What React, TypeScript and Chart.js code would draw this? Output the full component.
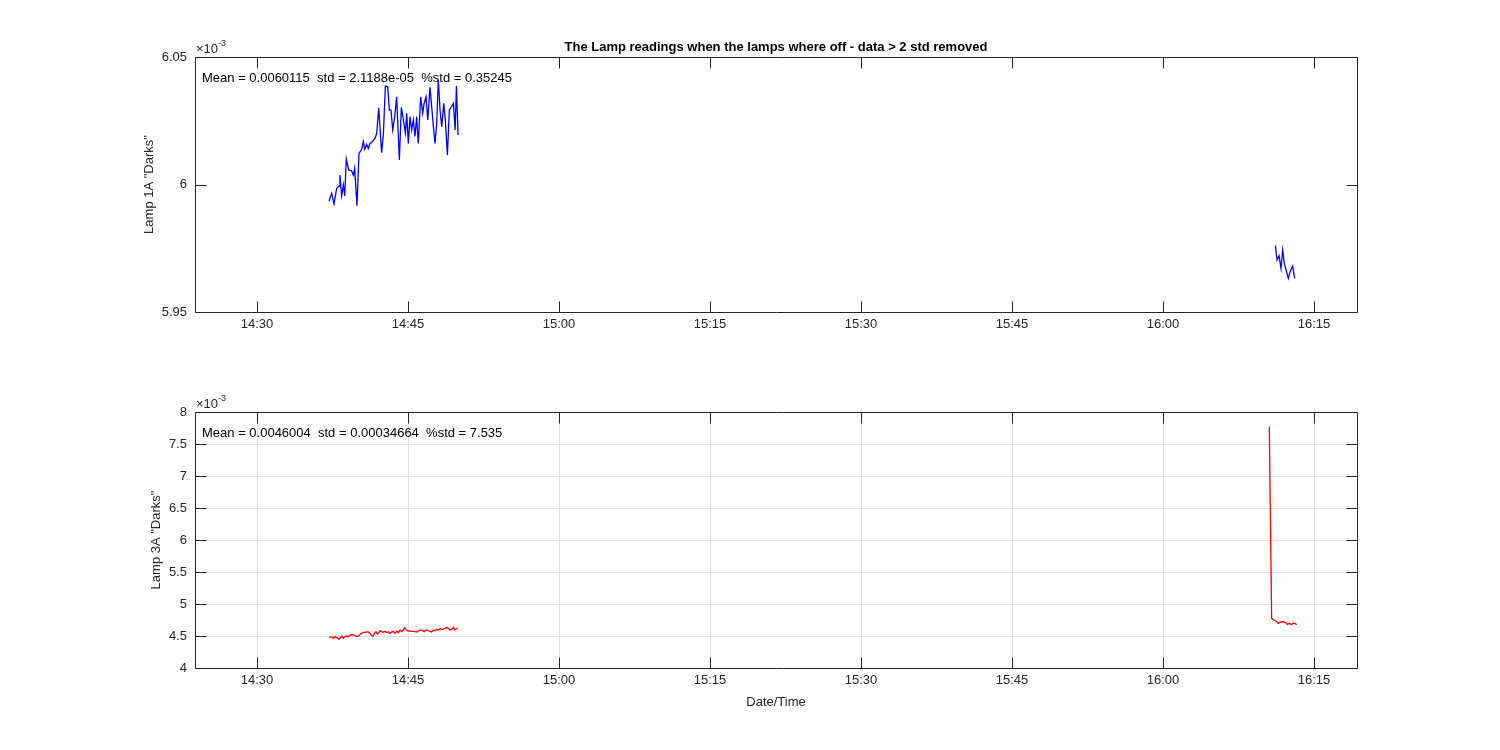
import { useEffect, useRef } from 'react';
import { Chart, registerables } from 'chart.js';

Chart.register(...registerables);

// ---- data (time in minutes after 14:00, values in units of 1e-3) ----
const xTickMinutes = [30, 45, 60, 75, 90, 105, 120, 135];
const xMin = 23.84;
const xMax = 139.27;

const lamp1ATimesA = [37.15,37.42,37.65,37.91,38.15,38.24,38.41,38.58,38.71,38.87,39.11,39.40,39.57,39.70,39.93,40.13,40.40,40.56,40.70,40.89,41.06,41.22,41.46,41.72,41.89,42.09,42.38,42.55,42.75,42.98,43.15,43.31,43.48,43.68,43.87,44.14,44.34,44.54,44.74,44.87,45.03,45.20,45.36,45.53,45.69,45.86,46.02,46.26,46.46,46.60,46.79,46.96,47.19,47.38,47.52,47.68,47.85,48.01,48.18,48.35,48.55,48.71,48.91,49.11,49.31,49.51,49.68,49.81,49.97];
const lamp1AValuesA = [5.9935,5.9965,5.9924,5.9985,5.9994,6.0037,5.9956,5.9998,5.9955,6.0100,6.0057,6.0053,6.0037,6.0063,5.9917,6.0122,6.0138,6.0169,6.0138,6.0158,6.0142,6.0161,6.0168,6.0181,6.0201,6.0301,6.0125,6.0194,6.0386,6.0384,6.0292,6.0292,6.0214,6.0266,6.0344,6.0096,6.0303,6.0253,6.0201,6.0279,6.0161,6.0266,6.0214,6.0253,6.0188,6.0266,6.0161,6.0344,6.0279,6.0318,6.0344,6.0253,6.0381,6.0292,6.0227,6.0161,6.0240,6.0410,6.0292,6.0227,6.0318,6.0253,6.0116,6.0292,6.0305,6.0318,6.0214,6.0386,6.0194];
const lamp1ATimesB = [131.16,131.33,131.53,131.72,131.89,132.05,132.22,132.45,132.65,132.88,133.08];
const lamp1AValuesB = [5.9760,5.9704,5.9721,5.9671,5.9743,5.9691,5.9665,5.9632,5.9661,5.9680,5.9632];

const lamp3ATimesA = [37.15,37.42,37.58,37.75,37.91,38.15,38.41,38.58,38.74,38.91,39.07,39.30,39.57,39.73,39.90,40.07,40.23,40.40,40.56,40.73,40.89,41.06,41.22,41.39,41.56,41.66,41.82,41.95,42.12,42.22,42.38,42.55,42.71,42.88,43.05,43.21,43.38,43.54,43.71,43.87,44.04,44.20,44.37,44.54,44.67,44.80,44.93,45.13,45.36,45.59,45.86,46.06,46.26,46.46,46.62,46.79,47.02,47.18,47.35,47.52,47.68,47.85,48.01,48.18,48.34,48.51,48.67,48.84,49.01,49.17,49.34,49.50,49.67,49.83,49.93];
const lamp3AValuesA = [4.479,4.490,4.464,4.490,4.479,4.448,4.500,4.464,4.490,4.500,4.490,4.516,4.521,4.505,4.490,4.500,4.521,4.542,4.557,4.557,4.563,4.563,4.542,4.505,4.500,4.542,4.568,4.531,4.552,4.583,4.568,4.557,4.573,4.557,4.563,4.542,4.563,4.573,4.542,4.578,4.552,4.594,4.568,4.594,4.630,4.604,4.583,4.578,4.573,4.573,4.563,4.583,4.594,4.583,4.568,4.594,4.583,4.573,4.563,4.594,4.583,4.604,4.594,4.615,4.604,4.609,4.620,4.635,4.620,4.594,4.604,4.635,4.594,4.620,4.620];
const lamp3ATimesB = [130.56,130.79,131.02,131.22,131.45,131.69,131.95,132.15,132.35,132.55,132.75,132.95,133.15,133.28];
const lamp3AValuesB = [7.771,4.776,4.750,4.734,4.698,4.719,4.724,4.714,4.682,4.698,4.677,4.703,4.693,4.677];

const lamp1AYTicks = [5.95, 6, 6.05];
const lamp3AYTicks = [4, 4.5, 5, 5.5, 6, 6.5, 7, 7.5, 8];

const titleText = 'The Lamp readings when the lamps where off - data > 2 std removed';
const lamp1AStats = 'Mean = 0.0060115  std = 2.1188e-05  %std = 0.35245';
const lamp3AStats = 'Mean = 0.0046004  std = 0.00034664  %std = 7.535';

// ---- styling ----
const FONT = '"Liberation Sans", Arial, Helvetica, sans-serif';
const AXIS = '#262626';
const W = 1500;
const H = 375;

const zip = (xs: number[], ys: number[]) => xs.map((x, i) => ({ x, y: ys[i] }));
const fmtTime = (v: number) => {
  const h = 14 + Math.floor(v / 60);
  const m = Math.round(v % 60);
  return `${h}:${String(m).padStart(2, '0')}`;
};
const fmtNum = (v: number) => String(Math.round(v * 100) / 100);

const matlabPlugin = {
  id: 'matlabBox',
  afterDraw(chart: any, _args: any, opts: any) {
    const { ctx, chartArea: a, scales } = chart;
    const L = 11;
    ctx.save();
    ctx.strokeStyle = AXIS;
    ctx.lineWidth = 1;
    const l = Math.round(a.left) + 0.5;
    const r = Math.round(a.right) + 0.5;
    const t = Math.round(a.top) + 0.5;
    const b = Math.round(a.bottom) + 0.5;
    ctx.beginPath();
    ctx.moveTo(l, t); ctx.lineTo(r, t); ctx.lineTo(r, b); ctx.lineTo(l, b); ctx.closePath();
    scales.x.ticks.forEach((tk: any) => {
      const px = Math.round(scales.x.getPixelForValue(tk.value)) + 0.5;
      ctx.moveTo(px, t); ctx.lineTo(px, t + L);
      ctx.moveTo(px, b); ctx.lineTo(px, b - L);
    });
    scales.y.ticks.forEach((tk: any) => {
      const py = Math.round(scales.y.getPixelForValue(tk.value)) + 0.5;
      ctx.moveTo(l, py); ctx.lineTo(l + L, py);
      ctx.moveTo(r, py); ctx.lineTo(r - L, py);
    });
    ctx.stroke();

    ctx.fillStyle = AXIS;
    ctx.textBaseline = 'middle';
    ctx.textAlign = 'left';
    ctx.font = `13px ${FONT}`;
    ctx.fillText('\u00d710', a.left + 1, a.top - 8);
    const w10 = ctx.measureText('\u00d710').width;
    ctx.font = `9px ${FONT}`;
    ctx.fillText('-3', a.left + 1 + w10, a.top - 13);

    ctx.fillStyle = '#000000';
    ctx.font = `13px ${FONT}`;
    ctx.fillText(opts.stats, 202, a.top + 21.5);

    if (opts.title) {
      ctx.font = `bold 13px ${FONT}`;
      ctx.textAlign = 'center';
      ctx.fillText(opts.title, (a.left + a.right) / 2, 47);
    }
    ctx.restore();
  },
};

function makeConfig(p: {
  segments: { x: number; y: number }[][];
  color: string;
  yMin: number;
  yMax: number;
  yTicks: number[];
  yTitle: string;
  yTitlePad: number;
  grid: boolean;
  padTop: number;
  padBottom: number;
  xHeight: number;
  xTitle?: string;
  stats: string;
  title?: string;
}): any {
  const tickFont = { family: FONT, size: 13 };
  return {
    type: 'line',
    data: {
      datasets: p.segments.map((seg) => ({
        data: seg,
        borderColor: p.color,
        backgroundColor: p.color,
        borderWidth: 1.3,
        pointRadius: 0,
        tension: 0,
        fill: false,
      })),
    },
    options: {
      animation: false,
      responsive: false,
      devicePixelRatio: 1,
      layout: { padding: { top: p.padTop, left: 135, right: 143, bottom: p.padBottom } },
      plugins: {
        legend: { display: false },
        tooltip: { enabled: false },
        title: { display: false },
        matlabBox: { stats: p.stats, title: p.title },
      },
      scales: {
        x: {
          type: 'linear',
          min: xMin,
          max: xMax,
          afterBuildTicks: (s: any) => { s.ticks = xTickMinutes.map((v) => ({ value: v })); },
          afterFit: (s: any) => { s.height = p.xHeight; },
          grid: { display: p.grid, drawTicks: false, color: '#e1e1e1', lineWidth: 1 },
          border: { display: false },
          ticks: {
            color: AXIS,
            font: tickFont,
            padding: 5,
            maxRotation: 0,
            autoSkip: false,
            callback: (v: number) => fmtTime(v),
          },
          title: p.xTitle
            ? { display: true, text: p.xTitle, color: AXIS, font: tickFont, padding: { top: 0, bottom: 6 } }
            : { display: false },
        },
        y: {
          type: 'linear',
          min: p.yMin,
          max: p.yMax,
          afterBuildTicks: (s: any) => { s.ticks = p.yTicks.map((v) => ({ value: v })); },
          afterFit: (s: any) => { s.width = 60; },
          grid: { display: p.grid, drawTicks: false, color: '#e1e1e1', lineWidth: 1 },
          border: { display: false },
          ticks: {
            color: AXIS,
            font: tickFont,
            padding: 8,
            autoSkip: false,
            callback: (v: number) => fmtNum(v),
          },
          title: { display: true, text: p.yTitle, color: AXIS, font: tickFont, padding: { top: p.yTitlePad, bottom: 0 } },
        },
      },
    },
    plugins: [matlabPlugin],
  };
}

export default function App() {
  const topRef = useRef<HTMLCanvasElement>(null);
  const botRef = useRef<HTMLCanvasElement>(null);

  useEffect(() => {
    document.body.style.margin = '0';
    const c1 = new Chart(
      topRef.current as HTMLCanvasElement,
      makeConfig({
        segments: [zip(lamp1ATimesA, lamp1AValuesA), zip(lamp1ATimesB, lamp1AValuesB)],
        color: '#0000ff',
        yMin: 5.95,
        yMax: 6.05,
        yTicks: lamp1AYTicks,
        yTitle: 'Lamp 1A "Darks"',
        yTitlePad: 7,
        grid: false,
        padTop: 57,
        padBottom: H - 312 - 40,
        xHeight: 40,
        stats: lamp1AStats,
        title: titleText,
      })
    );
    const c2 = new Chart(
      botRef.current as HTMLCanvasElement,
      makeConfig({
        segments: [zip(lamp3ATimesA, lamp3AValuesA), zip(lamp3ATimesB, lamp3AValuesB)],
        color: '#ff0000',
        yMin: 4,
        yMax: 8,
        yTicks: lamp3AYTicks,
        yTitle: 'Lamp 3A "Darks"',
        yTitlePad: 14,
        grid: true,
        padTop: 37,
        padBottom: H - 293 - 48,
        xHeight: 48,
        xTitle: 'Date/Time',
        stats: lamp3AStats,
      })
    );
    return () => {
      c1.destroy();
      c2.destroy();
    };
  }, []);

  return (
    <div style={{ position: 'fixed', left: 0, top: 0, width: W, height: 750, background: '#ffffff' }}>
      <canvas ref={topRef} width={W} height={H} style={{ position: 'absolute', left: 0, top: 0, width: W, height: H }} />
      <canvas ref={botRef} width={W} height={H} style={{ position: 'absolute', left: 0, top: H, width: W, height: H }} />
    </div>
  );
}
